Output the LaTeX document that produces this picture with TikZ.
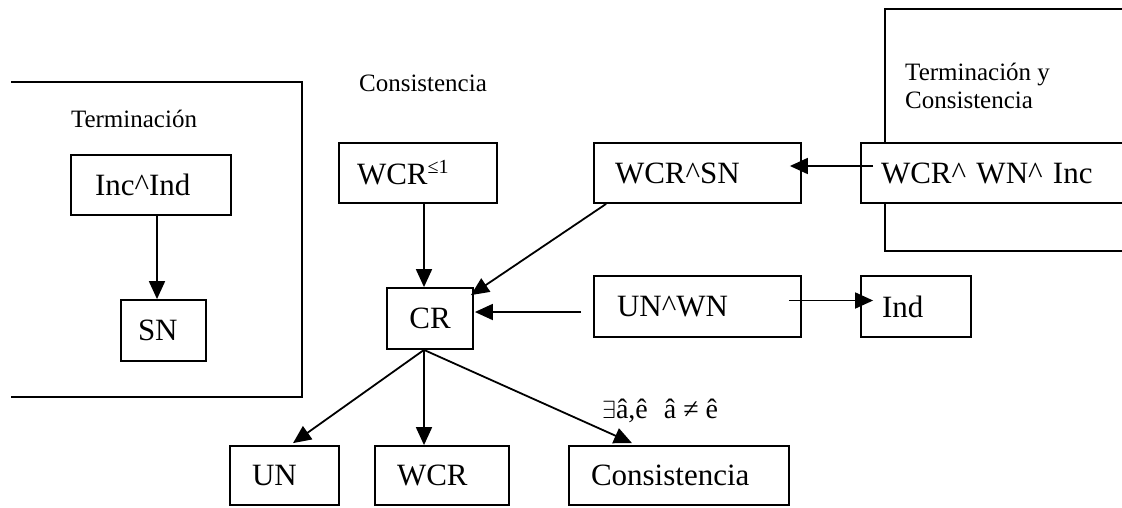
\documentclass[tikz,border=0pt]{standalone}
\usepackage{fontspec}
\setmainfont{Liberation Serif}
\usetikzlibrary{arrows.meta,calc}
\begin{document}
\begin{tikzpicture}[x=1pt,y=-1pt,
  frame/.style={line width=1.8pt},
  box/.style={draw, fill=white, line width=1.8pt, inner xsep=0pt, inner ysep=0pt,
    align=left, font=\fontsize{31}{34}\selectfont},
  link/.style={line width=1.8pt, -{Triangle[length=18pt,width=16pt]}},
  lbl/.style={font=\fontsize{25}{28}\selectfont, inner sep=0pt}]
\useasboundingbox (0,0) rectangle (1122,507);

% region frames
\draw[frame] (11,82) -- (302,82) -- (302,397) -- (11,397);
\draw[frame] (1122,9) -- (885,9) -- (885,251) -- (1122,251);

% region titles
\node[lbl, anchor=base] (tterm) at (134,127) {Terminación};
\node[lbl, anchor=base] (tcons) at (423,91) {Consistencia};
\node[lbl, anchor=base west] (ttc1) at (905,80) {Terminación y};
\node[lbl, anchor=base west] (ttc2) at (905,108) {Consistencia};

% properties
\node[box, minimum width=160, minimum height=60, text width=112] (inc) at (151,185) {Inc\textasciicircum Ind};
\node[box, minimum width=85, minimum height=61, text width=51] (sn) at (163.5,330.5) {SN};
\node[box, minimum width=158, minimum height=60, text width=122] (wle) at (418,173)
  {WCR\raisebox{11pt}{\fontsize{20}{20}\selectfont ≤1}};
\node[box, minimum width=207, minimum height=60, text width=165] (wsn) at (697.5,173) {WCR\textasciicircum SN};
\node[box, minimum width=279, minimum height=60, text width=239] (wwi) at (1000.5,173)
  {WCR\textasciicircum\ WN\textasciicircum\ Inc};
\node[box, minimum width=86, minimum height=61, text width=50, align=center] (cr) at (430,318.5) {CR};
\node[box, minimum width=207, minimum height=61, text width=161] (unwn) at (697.5,306.5) {UN\textasciicircum WN};
\node[box, minimum width=110, minimum height=61, text width=68] (ind) at (916,306.5) {Ind};
\node[box, minimum width=109, minimum height=59, text width=65] (un) at (284.5,475.5) {UN};
\node[box, minimum width=134, minimum height=59, text width=90] (wcr) at (442,475.5) {WCR};
\node[box, minimum width=220, minimum height=59, text width=176] (cons) at (679,475.5) {Consistencia};

% condition on the edge to Consistencia
\node[lbl, anchor=base west, font=\fontsize{28}{30}\selectfont] (cond) at (602,418)
  {$\exists$â,ê\hspace{16pt}â\hspace{7pt}≠\hspace{7pt}ê};

% implications
\draw[link] ($(inc.south)+(6,0)$) -- ($(sn.north)+(-6.5,0)$);
\draw[link] ($(wle.south)+(6,0)$) -- ($(cr.north)+(-6,0)$);
\draw[link] ($(wsn.south west)+(13,0)$) -- ($(cr.north east)+(-3,8)$);
\draw[link] ($(wwi.west)+(13,-7)$) -- ($(wsn.east)+(-12,-7)$);
\draw[link] ($(unwn.west)+(-12,5.5)$) -- ($(cr.east)+(1,-6.5)$);
\draw[link] ($(unwn.east)+(-13,-6)$) -- ($(ind.west)+(13,-6)$);
\draw[link] ($(cr.south)+(-6,0)$) -- ($(un.north)+(8.5,-2)$);
\draw[link] ($(cr.south)+(-6,0)$) -- ($(wcr.north)+(-18,0)$);
\draw[link] ($(cr.south)+(-6,0)$) -- ($(cons.north)+(-47,-2)$);
\end{tikzpicture}
\end{document}
